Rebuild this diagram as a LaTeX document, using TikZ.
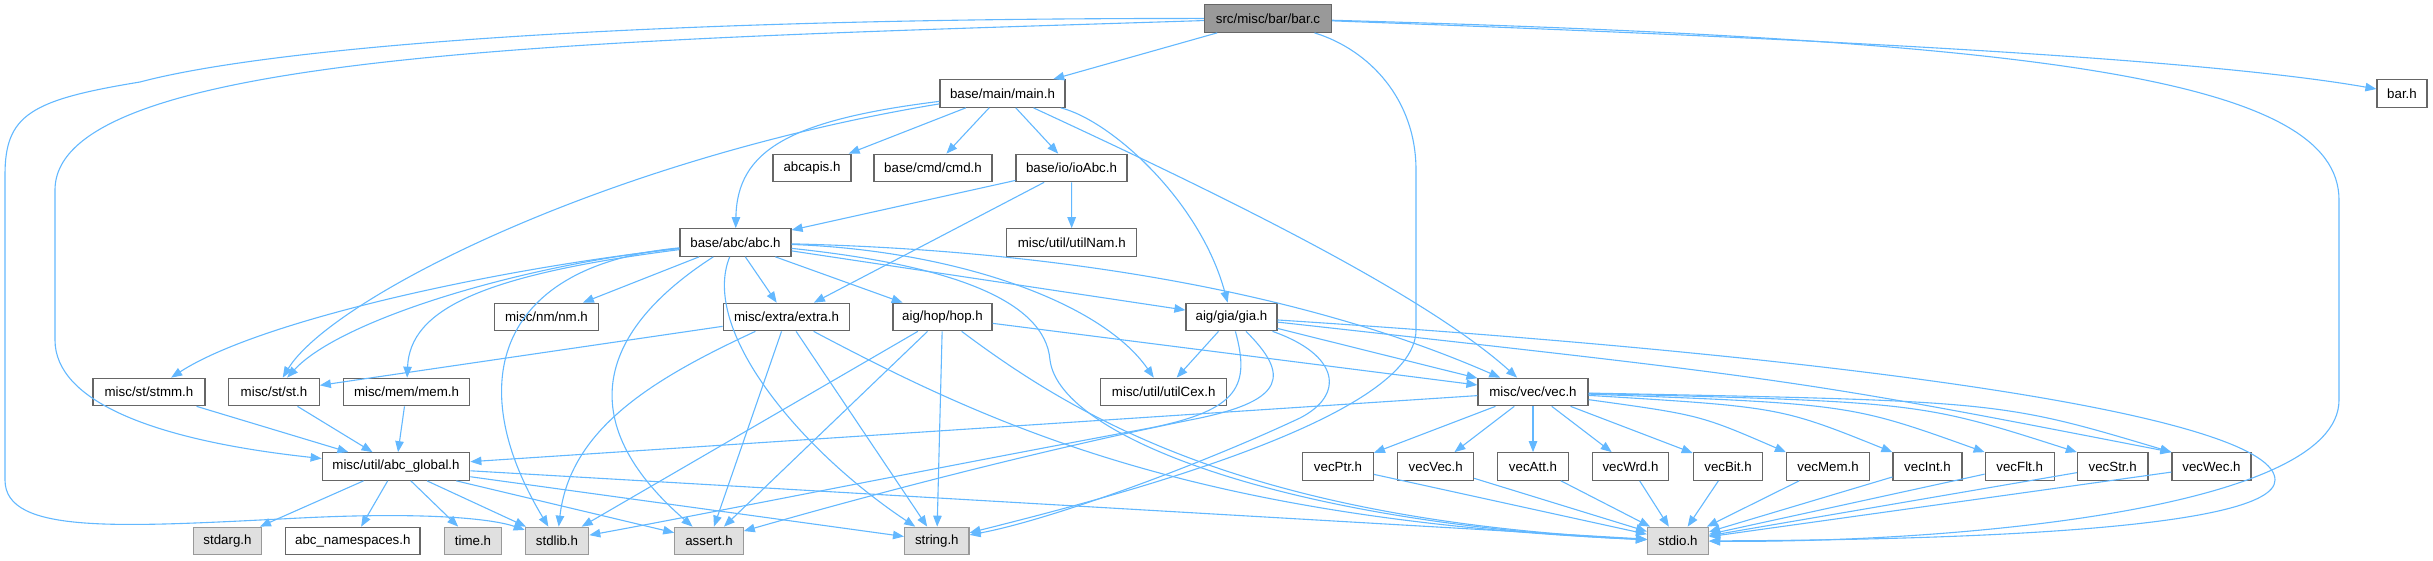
\documentclass[tikz,border=0pt]{standalone}
\usepackage{fontspec}
\setmainfont{Liberation Sans}
\usetikzlibrary{arrows.meta}
\definecolor{edgec}{HTML}{63B8FF}
\definecolor{nodeb}{HTML}{666666}
\definecolor{rootf}{HTML}{999999}
\definecolor{leafb}{HTML}{999999}
\definecolor{leaff}{HTML}{E0E0E0}
\begin{document}
\begin{tikzpicture}[x=1pt,y=-1pt,
  box/.style={draw=nodeb, fill=white, line width=1.2pt, minimum height=27.5pt, inner sep=0pt, font=\fontsize{13.3}{16}\selectfont},
  root/.style={box, fill=rootf},
  leaf/.style={box, draw=leafb, fill=leaff},
  edge/.style={draw=edgec, line width=1.1pt, -{Triangle[length=11pt,width=8.5pt]}}]
\useasboundingbox (0,0) rectangle (2433,560);
% nodes
\node[root, minimum width=127pt] (barc) at (1268,18.5) {src/misc/bar/bar.c};
\node[box, minimum width=125pt] (mainh) at (1002.5,93.5) {base/main/main.h};
\node[box, minimum width=50pt] (barh) at (2402,93.5) {bar.h};
\node[box, minimum width=78pt] (abcapis) at (812,168) {abcapis.h};
\node[box, minimum width=118pt] (cmd) at (933,168) {base/cmd/cmd.h};
\node[box, minimum width=111pt] (ioabc) at (1071.5,168) {base/io/ioAbc.h};
\node[box, minimum width=111pt] (abc) at (735.5,242.5) {base/abc/abc.h};
\node[box, minimum width=130pt] (utilnam) at (1071.7,242.5) {misc/util/utilNam.h};
\node[box, minimum width=103.6pt] (nm) at (546.5,317) {misc/nm/nm.h};
\node[box, minimum width=126.7pt] (extra) at (786.5,317) {misc/extra/extra.h};
\node[box, minimum width=99pt] (hop) at (942.5,317) {aig/hop/hop.h};
\node[box, minimum width=91pt] (gia) at (1231.5,317) {aig/gia/gia.h};
\node[box, minimum width=112pt] (stmm) at (149,392) {misc/st/stmm.h};
\node[box, minimum width=90.5pt] (st) at (274,392) {misc/st/st.h};
\node[box, minimum width=126.6pt] (mem) at (406.5,392) {misc/mem/mem.h};
\node[box, minimum width=126pt] (utilcex) at (1163.7,392) {misc/util/utilCex.h};
\node[box, minimum width=110pt] (vec) at (1533,392) {misc/vec/vec.h};
\node[box, minimum width=147.6pt] (glob) at (396,466.5) {misc/util/abc\_global.h};
\node[box, minimum width=70.7pt] (vecptr) at (1338,466.5) {vecPtr.h};
\node[box, minimum width=75.8pt] (vecvec) at (1435.7,466.5) {vecVec.h};
\node[box, minimum width=70.6pt] (vecatt) at (1533,466.5) {vecAtt.h};
\node[box, minimum width=76.7pt] (vecwrd) at (1630.5,466.5) {vecWrd.h};
\node[box, minimum width=69.5pt] (vecbit) at (1728,466.5) {vecBit.h};
\node[box, minimum width=83pt] (vecmem) at (1828,466.5) {vecMem.h};
\node[box, minimum width=69pt] (vecint) at (1927.5,466.5) {vecInt.h};
\node[box, minimum width=69pt] (vecflt) at (2019.7,466.5) {vecFlt.h};
\node[box, minimum width=70.6pt] (vecstr) at (2112.7,466.5) {vecStr.h};
\node[box, minimum width=79pt] (vecwec) at (2211.5,466.5) {vecWec.h};
\node[leaf, minimum width=68pt] (stdarg) at (227.5,541) {stdarg.h};
\node[box, minimum width=134.5pt] (nsp) at (352.8,541) {abc\_namespaces.h};
\node[leaf, minimum width=57pt] (time) at (473,541) {time.h};
\node[leaf, minimum width=63.4pt] (stdlib) at (557,541) {stdlib.h};
\node[leaf, minimum width=68.4pt] (assert) at (709,541) {assert.h};
\node[leaf, minimum width=64.4pt] (stringh) at (936.8,541) {string.h};
\node[leaf, minimum width=61pt] (stdio) at (1678,541) {stdio.h};
% edges from bar.c
\draw[edge] (barc) -- (mainh);
\draw[edge] (barc) .. controls (1800,38) and (2200,58) .. (barh);
\draw[edge] (barc) .. controls (2050,40) and (2339,80) .. (2339,200) -- (2339,400) .. controls (2339,510) and (1950,543) .. (stdio);
\draw[edge] (barc) .. controls (1370,50) and (1416,100) .. (1416,170) -- (1416,330) .. controls (1416,420) and (1100,500) .. (stringh);
\draw[edge] (barc) .. controls (600,40) and (55,50) .. (55,190) -- (55,340) .. controls (55,400) and (150,440) .. (glob);
\draw[edge] (barc) .. controls (600,18) and (260,50) .. (140,82) .. controls (30,100) and (5,115) .. (5,175) -- (5,480) .. controls (5,535) and (120,527) .. (300,518) .. controls (420,512) and (490,518) .. (stdlib);
% edges from main.h
\draw[edge] (mainh) -- (abcapis);
\draw[edge] (mainh) -- (cmd);
\draw[edge] (mainh) -- (ioabc);
\draw[edge] (mainh) .. controls (790,120) and (737,150) .. (abc);
\draw[edge] (mainh) .. controls (600,160) and (330,300) .. (st);
\draw[edge] (mainh) .. controls (1110,120) and (1200,200) .. (gia);
\draw[edge] (mainh) .. controls (1200,185) and (1420,290) .. (vec);
% edges from ioAbc.h
\draw[edge] (ioabc) -- (abc);
\draw[edge] (ioabc) -- (utilnam);
\draw[edge] (ioabc) -- (extra);
% edges from abc.h
\draw[edge] (abc) .. controls (500,268) and (260,320) .. (stmm);
\draw[edge] (abc) .. controls (520,265) and (340,320) .. (st);
\draw[edge] (abc) .. controls (480,275) and (410,310) .. (mem);
\draw[edge] (abc) -- (nm);
\draw[edge] (abc) -- (extra);
\draw[edge] (abc) -- (hop);
\draw[edge] (abc) -- (gia);
\draw[edge] (abc) .. controls (950,250) and (1100,300) .. (utilcex);
\draw[edge] (abc) .. controls (1050,250) and (1300,290) .. (vec);
\draw[edge] (abc) .. controls (500,265) and (460,380) .. (stdlib);
\draw[edge] (abc) .. controls (600,330) and (570,420) .. (assert);
\draw[edge] (abc) .. controls (700,330) and (800,450) .. (stringh);
\draw[edge] (abc) .. controls (950,265) and (1045,300) .. (1050,360) .. controls (1060,440) and (1300,525) .. (stdio);
% edges from extra.h
\draw[edge] (extra) -- (st);
\draw[edge] (extra) .. controls (650,380) and (570,430) .. (stdlib);
\draw[edge] (extra) -- (assert);
\draw[edge] (extra) -- (stringh);
\draw[edge] (extra) .. controls (1000,430) and (1200,520) .. (stdio);
% edges from hop.h
\draw[edge] (hop) -- (vec);
\draw[edge] (hop) -- (stdlib);
\draw[edge] (hop) -- (assert);
\draw[edge] (hop) -- (stringh);
\draw[edge] (hop) .. controls (1080,420) and (1250,520) .. (stdio);
% edges from gia.h
\draw[edge] (gia) -- (utilcex);
\draw[edge] (gia) -- (vec);
\draw[edge] (gia) .. controls (1800,380) .. (vecwec.north west);
\draw[edge] (gia) .. controls (1250,385) and (1240,410) .. (1150,428) .. controls (950,465) and (700,515) .. (stdlib);
\draw[edge] (gia) .. controls (1290,375) and (1285,400) .. (1200,418) .. controls (1000,458) and (800,515) .. (assert);
\draw[edge] (gia) .. controls (1340,355) and (1345,395) .. (1300,418) .. controls (1200,465) and (1050,520) .. (stringh);
\draw[edge] (gia) .. controls (1900,360) and (2275,420) .. (2275,480) .. controls (2275,530) and (1950,540) .. (stdio);
% edges from vec.h
\draw[edge] (vec) -- (glob);
\foreach \t in {vecptr,vecvec,vecatt,vecwrd,vecbit}{
  \draw[edge] (vec) -- (\t);
}
\draw[edge] (vec) .. controls (1700,415) .. (vecmem.north west);
\draw[edge] (vec) .. controls (1780,407) .. (vecint.north west);
\draw[edge] (vec) .. controls (1850,404) .. (vecflt.north west);
\draw[edge] (vec) .. controls (1920,402) .. (vecstr.north west);
\draw[edge] (vec) .. controls (2000,401) .. (vecwec.north west);
\foreach \t in {vecptr,vecvec,vecatt,vecwrd,vecbit,vecmem,vecint,vecflt,vecstr,vecwec}{
  \draw[edge] (\t) -- (stdio);
}
% edges into abc_global
\draw[edge] (stmm) -- (glob);
\draw[edge] (st) -- (glob);
\draw[edge] (mem) -- (glob);
% edges from abc_global
\draw[edge] (glob) -- (stdarg);
\draw[edge] (glob) -- (nsp);
\draw[edge] (glob) -- (time);
\draw[edge] (glob) -- (stdlib);
\draw[edge] (glob) -- (assert);
\draw[edge] (glob) -- (stringh);
\draw[edge] (glob) -- (stdio);
\end{tikzpicture}
\end{document}
